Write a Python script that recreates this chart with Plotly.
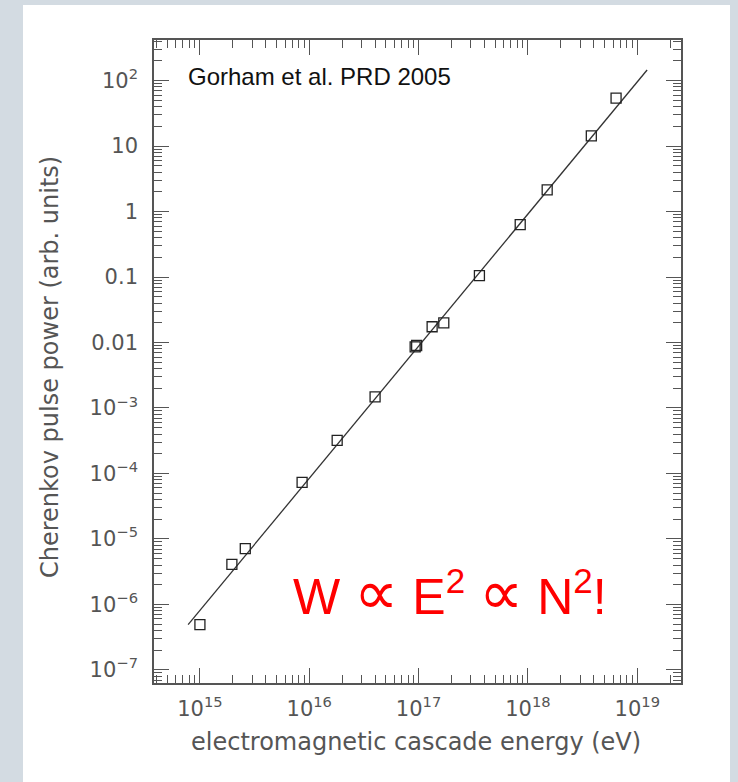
import plotly.graph_objects as go
import numpy as np

# ---- data ----
energy_eV = [1.0e15, 1.96e15, 2.6e15, 8.6e15, 1.8e16, 4.0e16, 9.3e16, 9.6e16,
             1.33e17, 1.7e17, 3.6e17, 8.5e17, 1.5e18, 3.8e18, 6.4e18]
power_arb = [4.9e-7, 4.1e-6, 7.1e-6, 7.3e-5, 3.2e-4, 1.48e-3, 8.6e-3, 9.0e-3,
             1.74e-2, 2.0e-2, 0.105, 0.63, 2.15, 14.3, 54.0]
fit_E = [7.8e14, 1.23e19]
fit_P = [4.9e-7, 1.45e2]

x_tickvals = [1e15, 1e16, 1e17, 1e18, 1e19]
x_ticktext = ["10<sup>15</sup>", "10<sup>16</sup>", "10<sup>17</sup>", "10<sup>18</sup>", "10<sup>19</sup>"]
y_tickvals = [1e-7, 1e-6, 1e-5, 1e-4, 1e-3, 1e-2, 1e-1, 1, 10, 100]
y_ticktext = ["10<sup>−7</sup>", "10<sup>−6</sup>", "10<sup>−5</sup>", "10<sup>−4</sup>", "10<sup>−3</sup>",
              "0.01", "0.1", "1", "10", "10<sup>2</sup>"]

x_minor = [m * 10.0 ** e for e in range(14, 20) for m in range(2, 10)]
y_minor = [m * 10.0 ** e for e in range(-8, 3) for m in range(2, 10)]

W, H = 738, 782
L, R, T, B = 154, 681, 40, 683
pw, ph = R - L, B - T

def px(xp):
    return (xp - L) / pw

def py(yp):
    return (B - yp) / ph

fig = go.Figure()
fig.add_trace(go.Scatter(x=fit_E, y=fit_P, mode="lines",
                         line=dict(color="#333333", width=1.3), showlegend=False, hoverinfo="skip"))
fig.add_trace(go.Scatter(x=energy_eV, y=power_arb, mode="markers",
                         marker=dict(symbol="square-open", size=10, color="#222222",
                                     line=dict(width=1.3, color="#222222")),
                         showlegend=False))

axis_common = dict(
    type="log", showgrid=False, zeroline=False,
    showline=True, linecolor="#555555", linewidth=1.6, mirror="allticks",
    ticks="inside", ticklen=15, tickwidth=1.3, tickcolor="#555555",
    tickfont=dict(family="DejaVu Sans", size=21, color="#555555"),
)

fig.update_xaxes(range=[14.58, 19.40], tickvals=x_tickvals, ticktext=x_ticktext,
                 ticklabelstandoff=6,
                 minor=dict(tickvals=x_minor, ticks="inside", ticklen=8, tickwidth=1.2,
                            tickcolor="#555555", showgrid=False),
                 **axis_common)
fig.update_yaxes(range=[-7.2, 2.62], tickvals=y_tickvals, ticktext=y_ticktext,
                 ticklabelstandoff=10,
                 minor=dict(tickvals=y_minor, ticks="inside", ticklen=8, tickwidth=1.2,
                            tickcolor="#555555", showgrid=False),
                 **axis_common)

# white panel over the gray page
fig.add_shape(type="rect", xref="paper", yref="paper",
              x0=px(23), x1=px(730), y0=py(800), y1=py(5),
              fillcolor="white", line=dict(width=0), layer="below")

prop = '<span style="font-family:DejaVu Sans;font-size:62px">∝</span>'
annotations = [
    dict(text="Gorham et al. PRD 2005", x=px(186), y=py(76), xanchor="left", yanchor="middle",
         font=dict(family="Liberation Sans", size=24, color="#111111")),
    dict(text=f"W {prop} E<sup>2</sup> {prop} N<sup>2</sup>!", x=px(291), y=py(592),
         xanchor="left", yanchor="middle",
         font=dict(family="Liberation Sans", size=50, color="#ff0000")),
    dict(text="electromagnetic cascade energy (eV)", x=px(416), y=py(742), xanchor="center", yanchor="middle",
         font=dict(family="DejaVu Sans", size=24, color="#555555")),
    dict(text="Cherenkov pulse power (arb. units)", x=px(50), y=py(367), xanchor="center", yanchor="middle",
         textangle=-90, font=dict(family="DejaVu Sans", size=24, color="#555555")),
]
for a in annotations:
    a.update(xref="paper", yref="paper", showarrow=False)
    fig.add_annotation(**a)

fig.update_layout(width=W, height=H, margin=dict(l=L, r=W - R, t=T, b=H - B),
                  paper_bgcolor="#d3dbe2", plot_bgcolor="white")

fig.write_html("out.html")
